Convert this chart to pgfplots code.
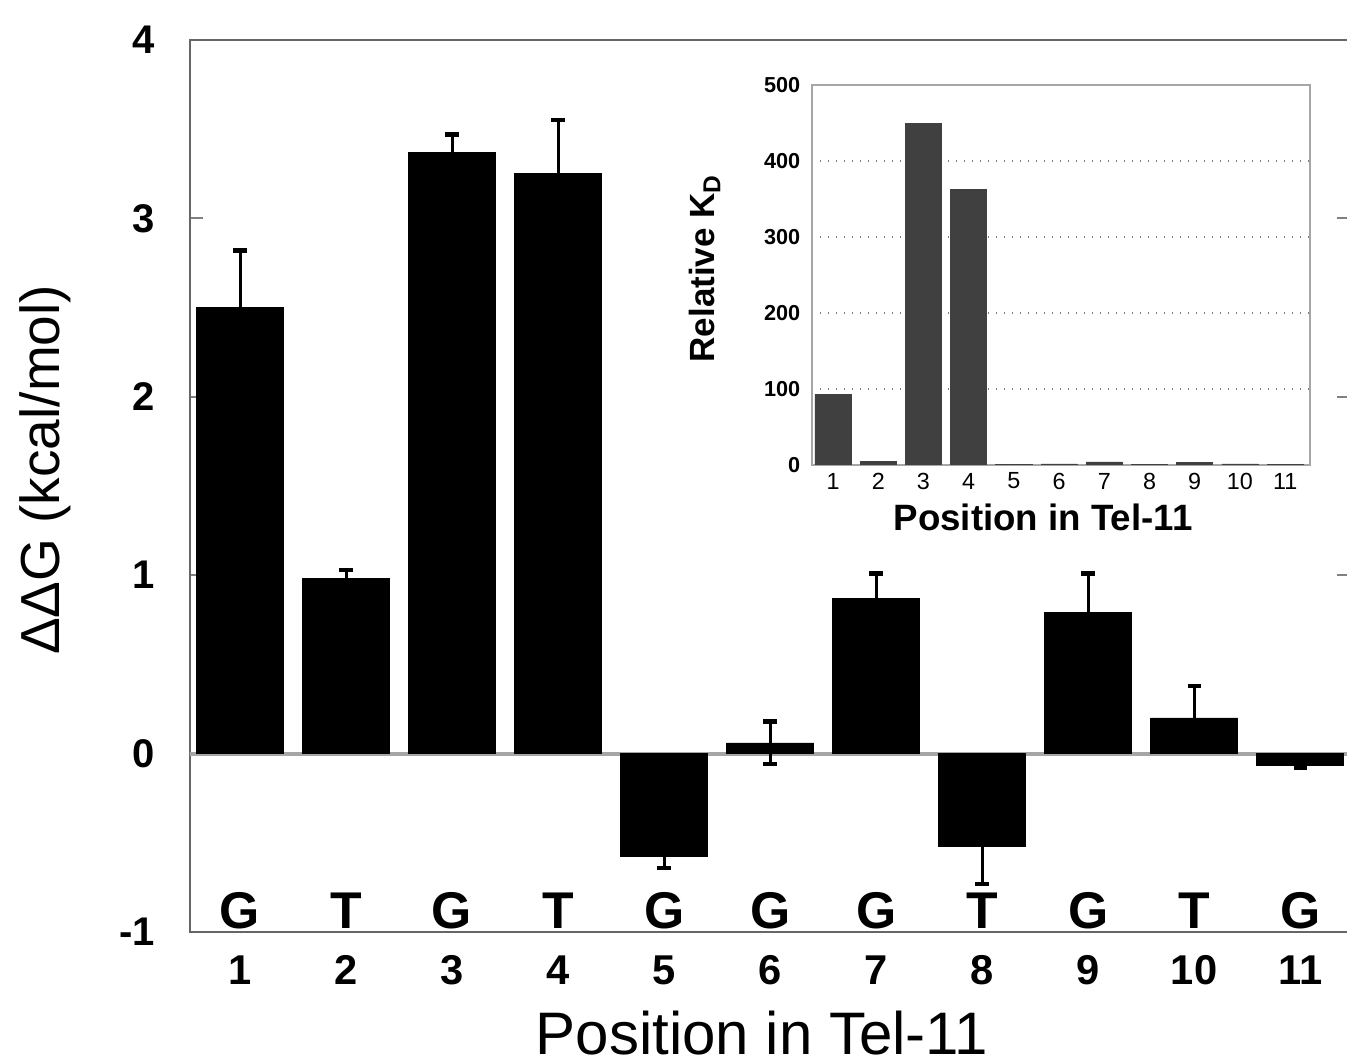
\documentclass[border=0pt]{standalone}
\usepackage{fontspec}
\setmainfont{Liberation Sans}
\usepackage{pgfplots}
\pgfplotsset{compat=1.18}
\begin{document}
\begin{tikzpicture}
\path[use as bounding box] (-57pt,-39.3pt) rectangle (347.1pt,279.6pt);
\begin{axis}[
  at={(0,0)}, anchor=south west,
  scale only axis, width=348pt, height=267.6pt,
  xmin=0.528, xmax=11.47, ymin=-1, ymax=4,
  ytick={-1,0,1,2,3,4},
  xtick={1,...,11},
  /pgf/number format/assume math mode=true,
  tick align=inside,
  major tick length=4pt,
  ytick style={gray, line width=0.6pt},
  xtick style={draw=none},
  axis line style={gray!80!black, line width=0.8pt},
  yticklabel style={font=\fontsize{12}{13}\selectfont\bfseries, xshift=-7pt},
  xticklabel style={font=\fontsize{12.5}{14}\selectfont\bfseries, anchor=center, yshift=-11.4pt},
  xlabel={Position in Tel-11},
  ylabel={ΔΔG (kcal/mol)},
  xlabel style={font=\fontsize{18}{20}\selectfont, at={(axis description cs:0.493,-0.113)}, anchor=center},
  ylabel style={font=\fontsize{16.5}{18}\selectfont, at={(axis description cs:-0.125,0.518)}, anchor=center},
]
\addplot[gray!70, line width=1.2pt, forget plot] coordinates {(0.4,0) (11.6,0)};
\addplot[ybar, bar width=0.82, fill=black, draw=black, line width=0.2pt] coordinates {
(1,2.50) (2,0.98) (3,3.37) (4,3.25) (5,-0.575) (6,0.06) (7,0.87) (8,-0.52) (9,0.79) (10,0.20) (11,-0.065)
};
\addplot[black, only marks, mark=*, mark size=0pt, forget plot,
  error bars/.cd, y dir=plus, y explicit, error mark=-,
  error bar style={black, line width=0.9pt},
  error mark options={black, mark size=2pt, line width=1.3pt, rotate=90}]
coordinates {
(1,2.50) +- (0,0.32)
(2,0.98) +- (0,0.05)
(3,3.37) +- (0,0.10)
(4,3.25) +- (0,0.30)
(6,0.06) +- (0,0.12)
(7,0.87) +- (0,0.14)
(9,0.79) +- (0,0.22)
(10,0.20) +- (0,0.18)
};
\addplot[black, only marks, mark=*, mark size=0pt, forget plot,
  error bars/.cd, y dir=minus, y explicit, error mark=-,
  error bar style={black, line width=0.9pt},
  error mark options={black, mark size=2pt, line width=1.3pt, rotate=90}]
coordinates {
(5,-0.575) +- (0,0.065)
(6,0.06) +- (0,0.12)
(8,-0.52) +- (0,0.21)
(11,-0.065) +- (0,0.015)
};
\node[anchor=base, yshift=1pt, inner sep=0pt, font=\fontsize{15.5}{17}\selectfont\bfseries] at (axis cs:1,-1) {G};
\node[anchor=base, yshift=1pt, inner sep=0pt, font=\fontsize{15.5}{17}\selectfont\bfseries] at (axis cs:2,-1) {T};
\node[anchor=base, yshift=1pt, inner sep=0pt, font=\fontsize{15.5}{17}\selectfont\bfseries] at (axis cs:3,-1) {G};
\node[anchor=base, yshift=1pt, inner sep=0pt, font=\fontsize{15.5}{17}\selectfont\bfseries] at (axis cs:4,-1) {T};
\node[anchor=base, yshift=1pt, inner sep=0pt, font=\fontsize{15.5}{17}\selectfont\bfseries] at (axis cs:5,-1) {G};
\node[anchor=base, yshift=1pt, inner sep=0pt, font=\fontsize{15.5}{17}\selectfont\bfseries] at (axis cs:6,-1) {G};
\node[anchor=base, yshift=1pt, inner sep=0pt, font=\fontsize{15.5}{17}\selectfont\bfseries] at (axis cs:7,-1) {G};
\node[anchor=base, yshift=1pt, inner sep=0pt, font=\fontsize{15.5}{17}\selectfont\bfseries] at (axis cs:8,-1) {T};
\node[anchor=base, yshift=1pt, inner sep=0pt, font=\fontsize{15.5}{17}\selectfont\bfseries] at (axis cs:9,-1) {G};
\node[anchor=base, yshift=1pt, inner sep=0pt, font=\fontsize{15.5}{17}\selectfont\bfseries] at (axis cs:10,-1) {T};
\node[anchor=base, yshift=1pt, inner sep=0pt, font=\fontsize{15.5}{17}\selectfont\bfseries] at (axis cs:11,-1) {G};
\end{axis}
\begin{axis}[
  at={(186.6pt,140.1pt)}, anchor=south west,
  scale only axis, width=149.4pt, height=114pt,
  xmin=0.535, xmax=11.55, ymin=0, ymax=500,
  xtick={1,...,11}, ytick={0,100,...,500},
  tick style={draw=none},
  ymajorgrids, grid style={gray, dotted, line width=0.5pt},
  axis line style={gray!70, line width=0.5pt},
  axis background/.style={fill=white},
  /pgf/number format/assume math mode=true,
  yticklabel style={font=\fontsize{6.5}{7}\selectfont\bfseries},
  xticklabel style={font=\fontsize{7}{8}\selectfont, anchor=center, yshift=-4.8pt},
  xlabel={Position in Tel-11},
  xlabel style={font=\fontsize{11}{12}\selectfont\bfseries, at={(axis description cs:0.464,-0.137)}, anchor=center},
  ylabel={Relative K\textsubscript{D}},
  ylabel style={font=\fontsize{10.5}{12}\selectfont\bfseries, at={(axis description cs:-0.215,0.518)}, anchor=center},
]
\addplot[ybar, bar width=0.8, fill=black!75, draw=black!75, line width=0.2pt] coordinates {
(1,93) (2,5) (3,449) (4,363) (5,0.5) (6,1.5) (7,4) (8,0.5) (9,3) (10,1.5) (11,1)
};
\end{axis}
\end{tikzpicture}
\end{document}
